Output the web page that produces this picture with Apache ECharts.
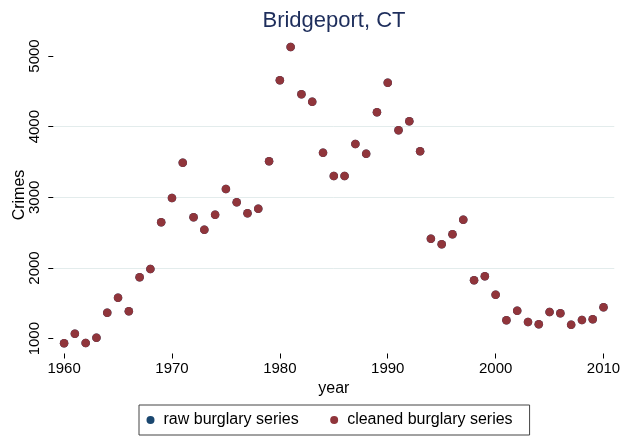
<!DOCTYPE html>
<html>
<head>
<meta charset="utf-8">
<script src="https://cdn.jsdelivr.net/npm/echarts@6/dist/echarts.min.js"></script>
<style>
html,body{margin:0;padding:0;background:#fff;}
#chart{width:625px;height:437px;}
</style>
</head>
<body>
<div id="chart"></div>
<script>
const years = [1960,1961,1962,1963,1964,1965,1966,1967,1968,1969,
  1970,1971,1972,1973,1974,1975,1976,1977,1978,1979,
  1980,1981,1982,1983,1984,1985,1986,1987,1988,1989,
  1990,1991,1992,1993,1994,1995,1996,1997,1998,1999,
  2000,2001,2002,2003,2004,2005,2006,2007,2008,2009,2010];
const rawBurglary = [935,1071,940,1014,1368,1580,1388,1869,1986,2647,
  2991,3490,2718,2540,2755,3118,2930,2774,2840,3510,
  4656,5127,4458,4354,3632,3302,3302,3755,3618,4204,
  4623,3949,4076,3652,2415,2336,2477,2683,1826,1883,
  1623,1260,1396,1236,1204,1378,1359,1198,1265,1274,1444];
const cleanedBurglary = [935,1071,940,1014,1368,1580,1388,1869,1986,2647,
  2991,3490,2718,2540,2755,3118,2930,2774,2840,3510,
  4656,5127,4458,4354,3632,3302,3302,3755,3618,4204,
  4623,3949,4076,3652,2415,2336,2477,2683,1826,1883,
  1623,1260,1396,1236,1204,1378,1359,1198,1265,1274,1444];
const xTicks = [1960,1970,1980,1990,2000,2010];
const yTicks = [1000,2000,3000,4000,5000];
const seriesNames = ['raw burglary series','cleaned burglary series'];
const titleText = 'Bridgeport, CT';

const FONT = "'Liberation Sans', Arial, Helvetica, sans-serif";
const pair = (vals) => years.map((y, i) => [y, vals[i]]);

const chart = echarts.init(document.getElementById('chart'), null, {renderer: 'canvas'});
chart.setOption({
  backgroundColor: '#ffffff',
  animation: false,
  textStyle: {fontFamily: FONT},
  title: {
    text: titleText,
    left: 334, top: 10, padding: 0,
    textAlign: 'center',
    textStyle: {fontSize: 22, fontWeight: 'normal', color: '#1e2e5c', fontFamily: FONT}
  },
  grid: {left: 53.3, right: 10.7, top: 36.5, bottom: 83.5, containLabel: false, outerBoundsMode: 'none'},
  xAxis: {
    type: 'value', min: 1959, max: 2011, minInterval: 10, maxInterval: 10,
    name: 'year', nameLocation: 'middle', nameGap: 27.5, nameMoveOverlap: false,
    nameTextStyle: {fontSize: 16, color: '#000', fontFamily: FONT},
    axisLine: {show: false},
    axisTick: {show: true, length: 5, customValues: xTicks, lineStyle: {color: '#000', width: 1}},
    axisLabel: {customValues: xTicks, fontSize: 15, color: '#000', margin: 8, fontFamily: FONT,
      formatter: v => String(v)},
    splitLine: {show: false}
  },
  yAxis: {
    type: 'value', min: 790, max: 5276, minInterval: 1000, maxInterval: 1000,
    name: 'Crimes', nameLocation: 'middle', nameGap: 26, nameRotate: 90, nameMoveOverlap: false,
    nameTextStyle: {fontSize: 16, color: '#000', fontFamily: FONT},
    axisLine: {show: false},
    axisTick: {show: true, length: 5, customValues: yTicks, lineStyle: {color: '#000', width: 1}},
    axisLabel: {customValues: yTicks, rotate: 90, fontSize: 15, color: '#000', margin: 11, fontFamily: FONT,
      formatter: v => String(v)},
    splitLine: {show: true, showMinLine: false, showMaxLine: false, lineStyle: {color: '#e3ecec', width: 1}}
  },
  legend: {
    left: 139, top: 405, orient: 'horizontal',
    padding: [7, 17, 7, 7.5],
    borderColor: '#444', borderWidth: 1,
    itemWidth: 16, itemHeight: 8, itemGap: 31.5,
    icon: 'circle',
    itemStyle: {opacity: 1},
    textStyle: {fontSize: 16, color: '#000', fontFamily: FONT},
    data: seriesNames
  },
  series: [
    {name: seriesNames[0], type: 'scatter', symbol: 'circle', symbolSize: 8.5,
     itemStyle: {color: '#1a476f', opacity: 1}, data: pair(rawBurglary), z: 2},
    {name: seriesNames[1], type: 'scatter', symbol: 'circle', symbolSize: 8.5,
     itemStyle: {color: '#90353b', opacity: 1}, data: pair(cleanedBurglary), z: 3}
  ]
});
</script>
</body>
</html>
